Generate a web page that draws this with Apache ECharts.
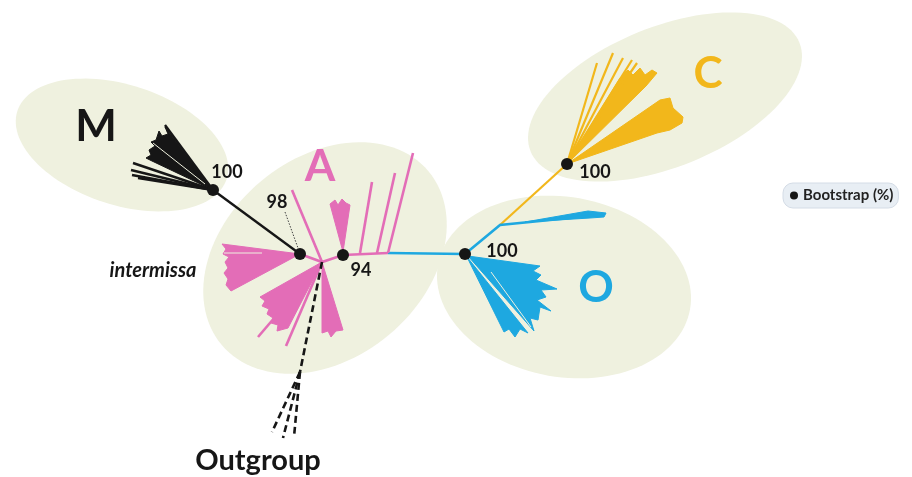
<!DOCTYPE html>
<html><head><meta charset="utf-8">
<script src="https://cdn.jsdelivr.net/npm/echarts@6/dist/echarts.min.js"></script>
<style>html,body{margin:0;padding:0;background:#fff}#c{width:912px;height:477px}</style>
</head><body><div id="c"></div>
<script>
// ---- data (tree layout in plot units) ----
const cladeHulls = [ // cx, cy, rx, ry, rotation(deg)
  [122,145,110,60,18],
  [325,258,135,100,-40],
  [665,97,145,70,-22],
  [564,287,128,90,10]
];
const cladeNames = ['M','A','C','O'];
const cladeLabelPos = [[96,127],[320,167],[708,74],[596,288]];

const bootstrapNodes = [[213,190],[300,254],[343,255],[465,254],[567,164]];
const bootstrapValues = ['100','98','94','100','100'];
const bootstrapLabelPos = [[227,172],[277,202],[361,270],[502,251],[595,172]];

const blackLines = [
  [[213,190],[300,254]],
  [[213,190],[165,125]],
  [[213,190],[133,163]],
  [[213,190],[131,170]],
  [[213,190],[132,175]],
  [[213,190],[138,178]]
];
const blackFans = [
  [[213,190],[165,127],[168,134],[162,136],[159,131],[156,140],[151,142],[155,146],[149,150],[151,155],[146,158],[152,161]]
];
const pinkLines = [
  [[300,254],[322,262],[343,255],[388,253]],
  [[322,262],[292,190]],
  [[360,253],[372,182]],
  [[377,253],[395,173]],
  [[388,253],[413,153]],
  [[322,262],[258,337]],
  [[322,262],[286,346]]
];
const pinkFans = [
  [[300,254],[222,244],[226,249],[223,254],[229,257],[225,262],[228,268],[224,273],[228,279],[226,285],[231,291]],
  [[322,262],[260,297],[265,301],[262,306],[269,309],[267,314],[273,318],[271,323],[278,325],[277,331],[288,328]],
  [[322,262],[322,333],[328,331],[331,337],[336,331],[343,330]],
  [[343,252],[330,204],[335,200],[338,205],[342,199],[346,203],[350,205]]
];
const blueLines = [
  [[388,253],[465,254]],
  [[465,254],[500,225],[600,215]]
];
const blueFans = [
  [[525,222],[588,211],[606,213],[604,217],[590,218]],
  [[468,256],[540,266],[533,271],[541,275],[536,280],[557,289],[541,290],[546,297],[537,300],[551,311],[540,307],[538,320],[530,318],[534,331]],
  [[467,257],[528,333],[520,329],[515,337],[509,329],[504,332]]
];
const yellowLines = [
  [[500,225],[567,164]],
  [[567,164],[597,63]],
  [[567,164],[613,53]],
  [[567,164],[623,58]],
  [[567,164],[632,60]],
  [[567,164],[637,63]]
];
const yellowFans = [
  [[567,164],[620,78],[628,70],[633,75],[640,68],[645,75],[652,70],[657,73],[646,86]],
  [[567,164],[660,100],[670,98],[673,108],[683,117],[682,123],[670,130],[657,133]]
];
const gapLines = [
  [[153,143],[205,184]],
  [[224,253],[262,253]],
  [[491,272],[531,327]]
];
const outgroupLines = [
  [[322,262],[300,372]],
  [[300,372],[272,432]],
  [[300,372],[283,438]],
  [[300,372],[294,437]]
];
const dottedLines = [[[285,212],[298,248]]];
const extraLabels = [
  {text:'intermissa', pos:[153,271]},
  {text:'Outgroup', pos:[258,461]}
];

// ---- styles ----
const PINK='#e36db7', BLUE='#1ea8e0', YEL='#f2b71b', BLK='#161616', BG='#eff1df';
const FONT='Lato, "Open Sans", sans-serif';

function fanSeries(fans, color){
  return {
    type:'custom', coordinateSystem:'cartesian2d', silent:true, z:3,
    data: fans.map(f=>f[0]),
    renderItem:(params, api)=>({
      type:'polygon',
      shape:{points: fans[params.dataIndex].map(p=>api.coord(p))},
      style:{fill:color, stroke:color, lineWidth:1}
    })
  };
}
function lineSeries(lines, color, width, type, z){
  return {
    type:'lines', coordinateSystem:'cartesian2d', polyline:true, silent:true, z:z||4,
    data: lines.map(l=>({coords:l})),
    lineStyle:{color:color, width:width, type:type||'solid', opacity:1, cap:'butt'}
  };
}
function textSeries(items, fontSize, color, weight, style, z){
  return {
    type:'scatter', silent:true, z:z||10, symbolSize:1,
    itemStyle:{color:'rgba(0,0,0,0)', opacity:1},
    data: items.map(it=>({name:it.text, value:it.pos,
      label:{color: it.color || color}})),
    label:{show:true, position:'inside', formatter:p=>p.name,
      fontSize:fontSize, fontWeight:weight, fontStyle:style||'normal', fontFamily:FONT, color:color}
  };
}

const cladeColors=[BLK,PINK,YEL,BLUE];
const chart = echarts.init(document.getElementById('c'), null, {renderer:'canvas'});
chart.setOption({
  animation:false,
  backgroundColor:'#ffffff',
  grid:{left:0,right:0,top:0,bottom:0},
  xAxis:{type:'value',min:0,max:912,show:false},
  yAxis:{type:'value',min:0,max:477,inverse:true,show:false},
  legend:{
    data:['Bootstrap (%)'], left:783, top:183, icon:'circle', itemWidth:8, itemHeight:8, itemGap:4,
    backgroundColor:'#e8eef4', borderColor:'#d4dce6', borderWidth:1, borderRadius:10, padding:[5,5,5,7],
    textStyle:{fontSize:15, fontWeight:'bold', color:'#222', fontFamily:FONT},
    selectedMode:false
  },
  series:[
    {
      type:'custom', coordinateSystem:'cartesian2d', silent:true, z:1,
      data: cladeHulls.map(h=>[h[0],h[1]]),
      renderItem:(params, api)=>{
        const h = cladeHulls[params.dataIndex];
        const a = h[4]*Math.PI/180, pts=[];
        for(let k=0;k<120;k++){
          const t=2*Math.PI*k/120;
          const x=h[0]+h[2]*Math.cos(t)*Math.cos(a)-h[3]*Math.sin(t)*Math.sin(a);
          const y=h[1]+h[2]*Math.cos(t)*Math.sin(a)+h[3]*Math.sin(t)*Math.cos(a);
          pts.push(api.coord([x,y]));
        }
        return {type:'polygon', shape:{points:pts}, style:{fill:BG}};
      }
    },
    fanSeries(blackFans, BLK),
    fanSeries(pinkFans, PINK),
    fanSeries(blueFans, BLUE),
    fanSeries(yellowFans, YEL),
    lineSeries(yellowLines, YEL, 2.2),
    lineSeries(blueLines, BLUE, 2.6),
    lineSeries(pinkLines, PINK, 2.6),
    lineSeries(blackLines, BLK, 2.4),
    lineSeries(gapLines, BG, 1, 'solid', 5),
    lineSeries(outgroupLines, BLK, 2.6, [7,4], 4),
    lineSeries(dottedLines, '#444', 1, [1.5,1.5], 4),
    {
      name:'Bootstrap (%)', type:'scatter', z:8, symbol:'circle', symbolSize:12,
      itemStyle:{color:BLK, opacity:1}, data: bootstrapNodes, silent:true
    },
    textSeries(bootstrapValues.map((t,i)=>({text:t,pos:bootstrapLabelPos[i]})), 18, '#161616', 'bold'),
    textSeries(cladeNames.map((t,i)=>({text:t,pos:cladeLabelPos[i],color:cladeColors[i]})), 44, BLK, 'bold'),
    textSeries([extraLabels[0]], 20, '#161616', 'bold', 'italic'),
    textSeries([extraLabels[1]], 29, '#161616', 'bold')
  ]
});
</script></body></html>
